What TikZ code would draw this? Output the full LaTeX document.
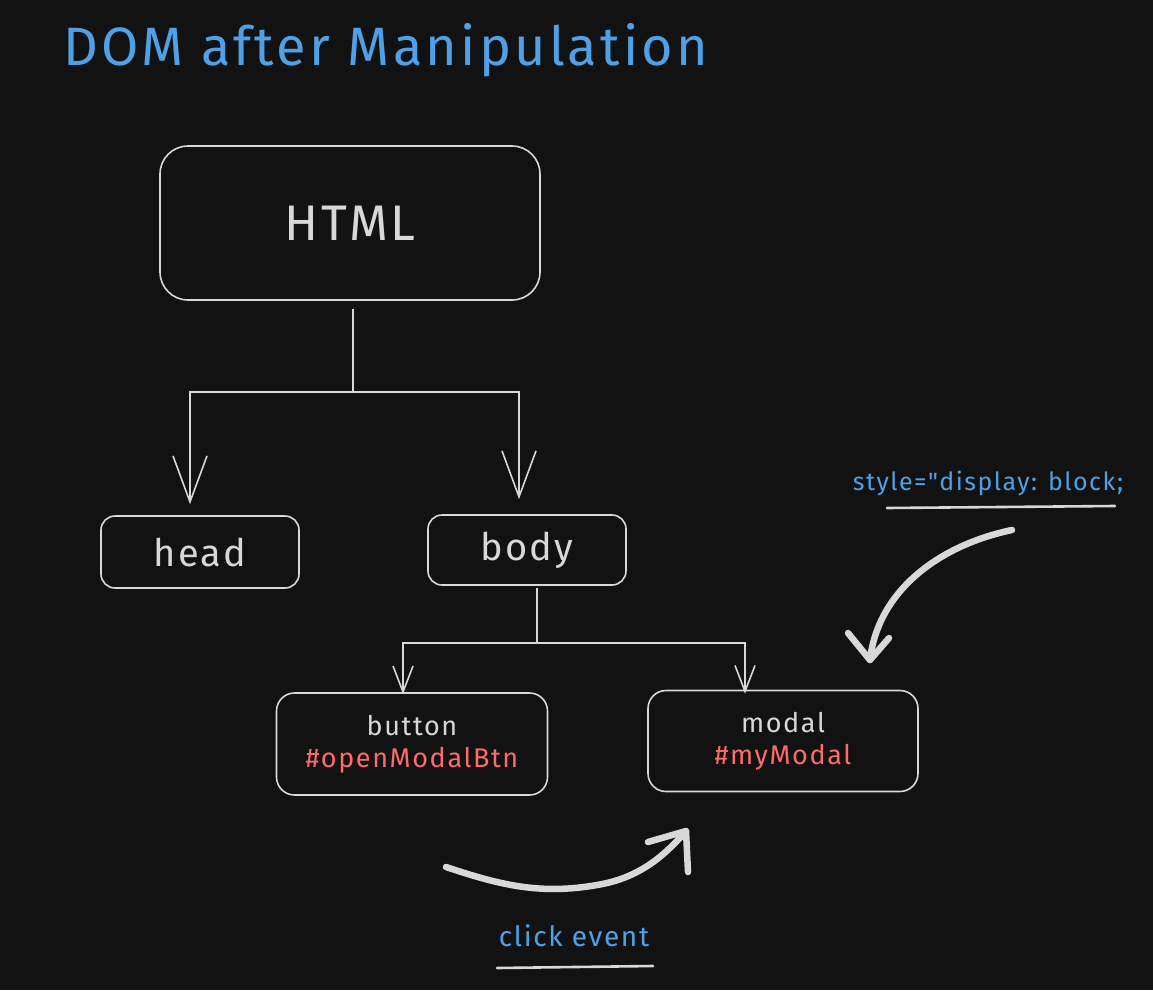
\documentclass[tikz,border=0pt]{standalone}
\usepackage{fontspec}
\setmainfont{Fira Sans}[Ligatures=TeXOff]
\usetikzlibrary{arrows.meta}
\definecolor{bg}{HTML}{121212}
\definecolor{ink}{HTML}{D8D8D8}
\definecolor{tblue}{HTML}{4EA1E6}
\definecolor{tred}{HTML}{FF6B6B}
\newcommand{\fsz}[1]{\fontsize{#1}{#1}\selectfont\addfontfeatures{LetterSpace=6}}
\begin{document}
\begin{tikzpicture}[x=1pt,y=-1pt,
  box/.style={draw=ink,line width=1.6pt,rounded corners=#1,text=ink,align=center,inner sep=0pt},
  box/.default=16pt,
  conn/.style={draw=ink,line width=1.6pt},
  bigtip/.style={conn,-{Straight Barb[length=46pt,width=34pt,line width=1.6pt]}},
  smalltip/.style={conn,-{Straight Barb[length=26pt,width=20pt,line width=1.6pt]}},
  thick/.style={draw=ink,line width=6.5pt,line cap=round,line join=round},
  uline/.style={draw=ink,line width=2.6pt,line cap=round},
  lbl/.style={text=tblue,inner sep=0pt}]
\path[fill=bg] (0,0) rectangle (1153,990);
\node[lbl,anchor=west,font=\fsz{54}] (title) at (63,50) {DOM after Manipulation};
\node[box=28pt,minimum width=380pt,minimum height=154pt,font=\fsz{50}] (html) at (350,223) {HTML};
\node[box=14pt,minimum width=198pt,minimum height=72pt,font=\fsz{38}] (head) at (200,552) {head};
\node[box=14pt,minimum width=198pt,minimum height=70pt,font=\fsz{38}] (body) at (527,550) {body};
\node[box=18pt,minimum width=271pt,minimum height=102pt,font=\fsz{27},execute at begin node={\setlength{\baselineskip}{32pt}}] (button) at (412,744) {button\\\textcolor{tred}{\#openModalBtn}};
\node[box=18pt,minimum width=270pt,minimum height=101pt,font=\fsz{27},execute at begin node={\setlength{\baselineskip}{32pt}}] (modal) at (783,741) {modal\\\textcolor{tred}{\#myModal}};
% HTML -> head, body
\coordinate (j1) at (353,392);
\draw[conn] ([xshift=3pt,yshift=-8pt]html.south) -- (j1);
\draw[bigtip] (j1) -| ([xshift=-10pt,yshift=11pt]head.north);
\draw[bigtip] (j1) -| ([xshift=-8pt,yshift=15pt]body.north);
% body -> button, modal
\coordinate (j2) at (537,643);
\draw[conn] ([xshift=10pt,yshift=-2pt]body.south) -- (j2);
\draw[smalltip] (j2) -| ([xshift=-9pt,yshift=-2pt]button.north);
\draw[smalltip] (j2) -| ([xshift=-38pt,yshift=-4pt]modal.north);
% style label
\node[lbl,font=\fsz{25}] (style) at (988,483) {style="display: block;};
\draw[uline] (887,508) -- (1115,506);
\coordinate (s0) at (1012,530);
\coordinate (s1) at (870,660);
\draw[thick] (s0) .. controls (940,545) and (878,590) .. (s1);
\draw[thick] (848,633) -- (s1) -- (889,638);
% click event
\node[lbl,font=\fsz{28}] (click) at (574,936) {click event};
\draw[uline] (497,968) -- (653,966);
\coordinate (c0) at (446,867);
\coordinate (c1) at (686,831);
\draw[thick] (c0) .. controls (500,885) and (540,895) .. (597,885) .. controls (640,878) and (665,855) .. (c1);
\draw[thick] (648,842) -- (c1) -- (688,872);
\end{tikzpicture}
\end{document}
